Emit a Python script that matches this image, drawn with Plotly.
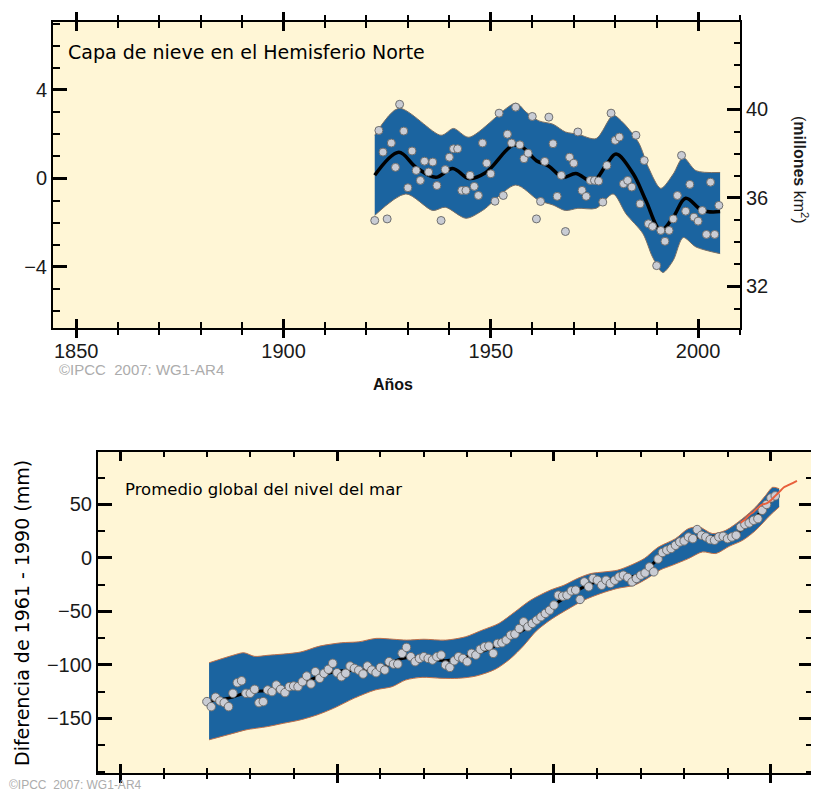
import plotly.graph_objects as go

# page body has an 8 px margin: the figure is sized so that it fits the window
OFF = 8
W, H = 819 - OFF, 794 - OFF

# ---------------- DATA: Northern Hemisphere snow cover ----------------
snow_years = list(range(1922, 2006))
snow_anom = [
    -1.9, 2.17, 1.19, -1.83, 1.6, 0.5, 3.35, 2.14, -0.42, 1.24,
    0.36, -0.09, 0.78, 0.29, 0.74, -0.32, -1.9, 0.4, 0.96, 1.34,
    1.34, -0.54, -0.54, 0.14, -0.36, -0.77, 1.6, 0.69, 0.21, -1.03,
    2.95, -0.77, 2.0, 1.6, 3.22, 1.52, 0.89, 1.14, 2.8, -1.83,
    -1.04, 0.77, 2.77, 1.57, -0.81, 0.14, -2.4, 0.96, 0.69, 2.1,
    -0.54, -0.81, -0.09, -0.09, -0.12, -1.07, 0.59, 2.95, 1.72, 1.87,
    -0.24, -0.09, -0.39, 1.95, -1.15, 0.81, -2.05, -2.17, -3.94, -2.35,
    -2.84, -2.35, -1.83, -0.77, 1.04, -1.48, -0.27, -1.75, -1.93, -1.45,
    -2.53, -0.17, -2.53, -1.22,
]
snow_smooth_years = [1922, 1927.8, 1932, 1936.7, 1940.8, 1944.7, 1948.8, 1955.3, 1957.7,
                     1961, 1964, 1967.4, 1970.5, 1974.6, 1977.8, 1980.2, 1984.3, 1987.4,
                     1991, 1994, 1997, 2001, 2005.3]
snow_smooth = [0.14, 1.18, 0.5, 0.05, 0.45, 0.0, 0.27, 1.5, 1.4,
               0.8, 0.55, 0.05, 0.22, -0.14, 0.6, 1.1, 0.22, -1.0,
               -2.35, -1.75, -0.9, -1.45, -1.5]
snow_upper_years = [1922, 1927.8, 1938, 1941, 1944.7, 1956, 1958.5, 1961.6, 1965, 1968,
                    1971, 1975.4, 1979.5, 1982, 1985.7, 1988, 1991, 1994, 1996.4, 1999.5, 2005.3]
snow_upper = [1.95, 3.17, 1.95, 2.26, 1.86, 3.4, 3.0, 2.6, 2.45, 2.1,
              2.0, 1.8, 2.85, 2.5, 1.6, 0.5, -0.45, 0.2, 0.95, 0.35, 0.27]
snow_lower_years = [1922, 1929.5, 1936, 1939, 1944, 1948, 1956, 1961.6, 1965, 1968,
                    1971, 1975.4, 1979.5, 1982.6, 1986.7, 1989, 1991.5, 1994, 1996.4, 1999.5, 2005.3]
snow_lower = [-1.67, -0.7, -1.45, -1.3, -1.8, -1.45, -0.3, -1.0, -1.2, -1.45,
              -1.35, -1.35, -0.7, -1.6, -2.5, -3.55, -4.25, -3.7, -2.67, -3.1, -3.4]

# ---------------- DATA: global mean sea level ----------------
sl_years = list(range(1870, 2002))
sl_vals = [
    -134.3, -139, -130.2, -133.7, -135.3, -139, -126.5, -116.6, -114.8, -126.5,
    -126.5, -122.8, -135.3, -134.3, -123.4, -125, -118.8, -122.8, -125.9, -120.3,
    -119.7, -120.3, -115.7, -110.4, -117.8, -106.3, -112.5, -107.8, -104.1, -98.5,
    -107.3, -111, -107.8, -101, -103.2, -105, -108.5, -101, -104.8, -107.3,
    -102.3, -104.8, -97, -99.2, -99.2, -89.2, -83.6, -92.3, -97, -93.9,
    -92.3, -93.9, -95.4, -92.3, -90.8, -100.1, -102.3, -96.1, -92.3, -93.9,
    -97, -89.2, -90.8, -85.4, -83, -82.4, -89.2, -79.9, -79.3, -76.8,
    -72.1, -71.2, -66, -59.7, -64.4, -61.2, -58.1, -55, -51.9, -48.8,
    -44.1, -34.8, -35.7, -34.8, -30.8, -30.1, -38.8, -22.4, -27, -19.2,
    -20.8, -25.5, -20.8, -23.9, -20.8, -17.7, -16.1, -18.3, -22.4, -19.2,
    -16.1, -14, -8.4, -13, -1, 5, 7.2, 8.8, 11.8, 14.9,
    15.9, 19.6, 18, 26.5, 21.2, 19.6, 17.1, 16.5, 19.6, 20.2,
    18, 19.6, 21.2, 28.9, 31.4, 32.7, 35.2, 36.7, 44.5, 50,
    56, 58,
]
sl_line_years = [1870, 1875, 1880, 1885, 1890, 1895, 1900, 1905, 1910, 1915, 1920, 1925, 1930,
                 1935, 1940, 1945, 1950, 1955, 1960, 1965, 1970, 1975, 1980, 1985, 1990,
                 1995, 2000, 2001]
sl_line = [-134, -131, -125, -124, -120, -112, -106, -105, -103, -94, -93, -96, -92,
           -85, -74, -62, -44, -31, -22, -19, -15, 3, 16, 20, 19, 32, 53, 56]
sl_upper_years = [1870.5, 1876, 1878.5, 1881, 1884, 1891.5, 1896, 1901, 1905, 1909, 1913,
                  1916, 1920, 1925, 1929.6, 1933.5, 1937.3, 1940.8, 1944.6, 1949.2, 1952.3,
                  1955.4, 1958.5, 1961.5, 1964.6, 1967.7, 1970.8, 1974, 1978, 1981, 1983.5,
                  1986.5, 1989.6, 1993.5, 1996.5, 1998.8, 2000.4, 2001.9]
sl_upper = [-98, -91, -88.6, -92, -91, -88, -82.4, -79.3, -78.4, -75.2, -76,
            -76.8, -76, -76.8, -73.7, -67.4, -61.2, -51, -39.5, -30, -25.5,
            -19.2, -14.6, -13.1, -11.5, -6.8, -0.6, 10, 18, 27.4, 28.9,
            22.8, 25.8, 36.8, 47.6, 58.5, 66, 64.7]
sl_lower_years = [1870.5, 1876, 1879, 1884, 1887.7, 1891.5, 1895.4, 1899.2, 1904, 1908.8,
                  1912.7, 1915.8, 1919.6, 1924.2, 1928, 1932, 1936.5, 1940, 1943, 1946,
                  1949.5, 1954, 1956.9, 1960.8, 1964.6, 1968.5, 1971.5, 1974.6, 1977.3, 1981,
                  1984.2, 1987.3, 1990.4, 1993.5, 1996.5, 1999.8, 2001.9]
sl_lower = [-170, -164, -160.7, -157.6, -154.5, -151.4, -146.7, -140.5, -131, -123.4,
            -120.3, -114.1, -111.6, -112.5, -112.5, -110.4, -104, -94, -82, -68,
            -57, -46, -39.5, -33.2, -28.5, -25.5, -19.2, -11, -6.8, -0.6,
            5.6, 4.1, 10.9, 16.5, 25.8, 39.8, 47.6]
sat_years = [1993, 1994, 1995, 1996, 1997, 1998, 1999, 2000, 2001, 2002, 2003, 2004, 2005, 2006]
sat_vals = [33, 36, 40, 43, 47, 50, 51, 54, 58, 62, 66, 68, 70, 72]

# ---------------- STYLE ----------------
BG = "#fff6d6"
BLUE = "#1b64a0"
DOT = "#c9ccd4"
DOT_EDGE = "#6e6e6e"
TICKFONT = dict(family="Liberation Sans, Arial, sans-serif", size=20, color="#1a1a1a")


def px(x):
    return (x - OFF) / W


def py(y):
    return 1 - (y - OFF) / H


fig = go.Figure()

# ---- top panel: band, smooth curve, dots
fig.add_trace(go.Scatter(x=snow_upper_years, y=snow_upper, mode="lines",
                         line=dict(color="#7a6f66", width=1, shape="spline", smoothing=0.8),
                         xaxis="x", yaxis="y", hoverinfo="skip"))
fig.add_trace(go.Scatter(x=snow_lower_years, y=snow_lower, mode="lines", fill="tonexty",
                         fillcolor=BLUE,
                         line=dict(color="#7a6f66", width=1, shape="spline", smoothing=0.8),
                         xaxis="x", yaxis="y", hoverinfo="skip"))
fig.add_trace(go.Scatter(x=snow_smooth_years, y=snow_smooth, mode="lines",
                         line=dict(color="black", width=3.5, shape="spline", smoothing=1),
                         xaxis="x", yaxis="y"))
fig.add_trace(go.Scatter(x=snow_years, y=snow_anom, mode="markers",
                         marker=dict(size=8, color=DOT, line=dict(color=DOT_EDGE, width=1)),
                         xaxis="x", yaxis="y"))
# overlay axes helpers
fig.add_trace(go.Scatter(x=[], y=[], xaxis="x", yaxis="y2"))
fig.add_trace(go.Scatter(x=[], y=[], xaxis="x3", yaxis="y"))

# ---- bottom panel
fig.add_trace(go.Scatter(x=sl_upper_years, y=sl_upper, mode="lines",
                         line=dict(color="#c0704a", width=1, shape="spline", smoothing=0.8),
                         xaxis="x2", yaxis="y3", hoverinfo="skip"))
fig.add_trace(go.Scatter(x=sl_lower_years, y=sl_lower, mode="lines", fill="tonexty",
                         fillcolor=BLUE,
                         line=dict(color="#c0704a", width=1, shape="spline", smoothing=0.8),
                         xaxis="x2", yaxis="y3", hoverinfo="skip"))
fig.add_trace(go.Scatter(x=sl_line_years, y=sl_line, mode="lines",
                         line=dict(color="black", width=3, shape="spline", smoothing=1),
                         xaxis="x2", yaxis="y3"))
fig.add_trace(go.Scatter(x=sl_years, y=sl_vals, mode="markers",
                         marker=dict(size=8.5, color=DOT, line=dict(color=DOT_EDGE, width=1)),
                         xaxis="x2", yaxis="y3"))
fig.add_trace(go.Scatter(x=sat_years, y=sat_vals, mode="lines",
                         line=dict(color="#e8603c", width=2, shape="spline"),
                         xaxis="x2", yaxis="y3"))
fig.add_trace(go.Scatter(x=[], y=[], xaxis="x4", yaxis="y3"))

xr_top = [1844.4, 2010.1]
xr_bot = [1844.9, 2009.7]
dom_x_top = [px(53), px(740)]
dom_y_top = [py(328), py(22)]
dom_x_bot = [px(98), px(813)]
dom_y_bot = [py(773), py(452)]

common = dict(showgrid=False, zeroline=False, linecolor="black", tickcolor="black",
              tickfont=TICKFONT)

fig.update_layout(
    width=W, height=H, margin=dict(l=0, r=0, t=0, b=0),
    paper_bgcolor="white", plot_bgcolor=BG, showlegend=False,
    xaxis=dict(domain=dom_x_top, anchor="y", range=xr_top, dtick=50, tick0=1850,
               ticks="inside", ticklen=9, tickwidth=2.5, showline=True, linewidth=2,
               mirror="ticks", ticklabelstandoff=4,
               minor=dict(dtick=10, ticks="inside", ticklen=6, tickwidth=1.5, tickcolor="black"),
               **common),
    xaxis3=dict(overlaying="x", anchor="y", range=xr_top, dtick=50, tick0=1850,
                ticks="outside", ticklen=9, tickwidth=2.5, showline=False, mirror="ticks",
                showticklabels=False,
                minor=dict(dtick=10, ticks="outside", ticklen=6, tickwidth=1.5, tickcolor="black"),
                showgrid=False, zeroline=False, tickcolor="black"),
    yaxis=dict(domain=dom_y_top, anchor="x", range=[-6.76, 7.07], dtick=4, tick0=0,
               ticks="inside", ticklen=14, tickwidth=2.5, showline=True, linewidth=2,
               minor=dict(dtick=1, ticks="inside", ticklen=7, tickwidth=1.5, tickcolor="black"),
               **common),
    yaxis2=dict(overlaying="y", anchor="x", side="right", range=[30.12, 43.95], dtick=4, tick0=0,
                ticks="inside", ticklen=13, tickwidth=2.5, showline=True, linewidth=2,
                minor=dict(dtick=1, ticks="inside", ticklen=6, tickwidth=1.5, tickcolor="black"),
                **common),
    xaxis2=dict(domain=dom_x_bot, anchor="y3", range=xr_bot, dtick=50, tick0=1850,
                ticks="inside", ticklen=9, tickwidth=2.5, showline=True, linewidth=2,
                mirror="ticks", showticklabels=False,
                minor=dict(dtick=10, ticks="inside", ticklen=5, tickwidth=1.5, tickcolor="black"),
                **common),
    xaxis4=dict(overlaying="x2", anchor="y3", range=xr_bot, dtick=50, tick0=1850,
                ticks="outside", ticklen=9, tickwidth=2.5, showline=False,
                showticklabels=False,
                minor=dict(dtick=10, ticks="outside", ticklen=5, tickwidth=1.5, tickcolor="black"),
                showgrid=False, zeroline=False, tickcolor="black"),
    yaxis3=dict(domain=dom_y_bot, anchor="x2", range=[-201, 99],
                tickmode="array", tickvals=[-150, -100, -50, 0, 50],
                ticks="inside", ticklen=14, tickwidth=2.5, showline=True, linewidth=2,
                mirror="ticks",
                minor=dict(dtick=25, tick0=0, ticks="inside", ticklen=7, tickwidth=1.5,
                           tickcolor="black"),
                **common),
)

ann_font = dict(family="DejaVu Sans, Verdana, sans-serif", color="black")
annotations = [
    dict(text="Capa de nieve en el Hemisferio Norte", x=px(66), y=py(52), xanchor="left",
         yanchor="middle", font=dict(size=19, **ann_font)),
    dict(text="Promedio global del nivel del mar", x=px(123), y=py(489), xanchor="left",
         yanchor="middle", font=dict(size=16.5, **ann_font)),
    dict(text="Diferencia de 1961 - 1990 (mm)", x=px(22), y=py(613), xanchor="center",
         yanchor="middle", textangle=-90, font=dict(size=19, **ann_font)),
    dict(text="(<b>millones</b> km<sup>2</sup>)", x=px(801), y=py(170), xanchor="center",
         yanchor="middle", textangle=90,
         font=dict(family="Liberation Sans, Arial, sans-serif", size=16, color="#1a1a1a")),
    dict(text="<b>Años</b>", x=px(393), y=py(384), xanchor="center", yanchor="middle",
         font=dict(family="Liberation Sans, Arial, sans-serif", size=16, color="#111")),
    dict(text="©IPCC  2007: WG1-AR4", x=px(57), y=py(369), xanchor="left", yanchor="middle",
         font=dict(family="Liberation Sans, Arial, sans-serif", size=15, color="#acacac")),
    dict(text="©IPCC  2007: WG1-AR4", x=px(7), y=py(785), xanchor="left", yanchor="middle",
         font=dict(family="Liberation Sans, Arial, sans-serif", size=12, color="#acacac")),
]
for a in annotations:
    a.update(xref="paper", yref="paper", showarrow=False)
fig.update_layout(annotations=annotations)

fig.write_html("out.html")
